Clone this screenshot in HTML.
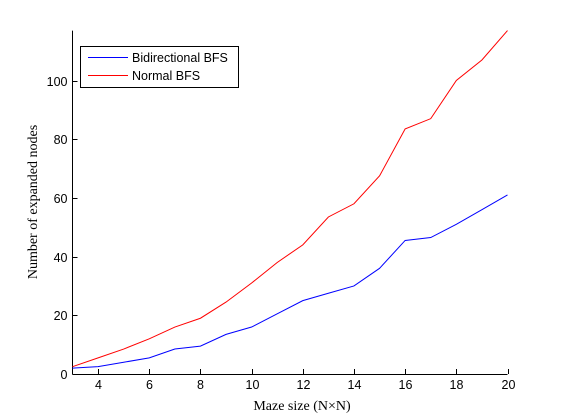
<!DOCTYPE html>
<html><head><meta charset="utf-8"><style>
body{margin:0;background:#fff;}
svg{display:block;}
</style></head><body>
<svg id="chart" width="561" height="420" xmlns="http://www.w3.org/2000/svg">
<g id="axes"></g>
<g id="series"></g>
<g>
<rect x="80.5" y="46.5" width="158" height="41" fill="#fff" stroke="#000" stroke-width="1"/>
<line x1="88" y1="57.5" x2="128" y2="57.5" stroke="#0000ff"/>
<text x="132" y="62" font-family="Liberation Sans, sans-serif" font-size="12.5">Bidirectional BFS</text>
<line x1="88" y1="75.5" x2="128" y2="75.5" stroke="#ff0000"/>
<text x="132" y="80" font-family="Liberation Sans, sans-serif" font-size="12.5">Normal BFS</text>
</g>
<text x="302" y="410" text-anchor="middle" font-family="Liberation Serif, serif" font-size="14">Maze size (N×N)</text>
<text transform="translate(37,202) rotate(-90)" text-anchor="middle" font-family="Liberation Serif, serif" font-size="14">Number of expanded nodes</text>
</svg>
<script>
const xs=[3,4,5,6,7,8,9,10,11,12,13,14,15,16,17,18,19,20];
const bidirectional=[2,2.5,4,5.5,8.5,9.5,13.5,16,20.5,25,27.5,30,36,45.5,46.5,51,56,61];
const normal=[2.5,5.5,8.5,12,16,19,24.5,31,38,44,53.5,58,67.5,83.5,87,100,107,117];
const xTicks=[4,6,8,10,12,14,16,18,20];
const yTicks=[0,20,40,60,80,100];
const NS="http://www.w3.org/2000/svg";
const X0=72.5,X1=507.5,Y0=374,YMAX=117,PPU=2.935;
function sx(v){return X0+(v-3)/(20-3)*(X1-X0);}
function sy(v){return Y0-v*PPU;}
const axes=document.getElementById('axes');
function mk(tag,attrs,parent){const e=document.createElementNS(NS,tag);for(const k in attrs)e.setAttribute(k,attrs[k]);parent.appendChild(e);return e;}
let l=mk('line',{x1:X0,y1:sy(YMAX),x2:X0,y2:Y0+0.5,stroke:'#000'},axes);


l=mk('line',{x1:X0,y1:Y0+0.5,x2:X1,y2:Y0+0.5,stroke:'#000'},axes);


xTicks.forEach(t=>{
 const x=Math.round(sx(t))+0.5;
 const tk=mk('line',{x1:x,y1:Y0,x2:x,y2:Y0-5,stroke:'#000'},axes);
 
 
 const tx=mk('text',{x:x,y:Y0+15,'text-anchor':'middle','font-family':'Liberation Sans, sans-serif','font-size':'12.5'},axes);
 tx.textContent=t;
 
 
});
yTicks.forEach(t=>{
 const y=Math.round(sy(t))+0.5;
 const tk=mk('line',{x1:X0,y1:y,x2:X0+5,y2:y,stroke:'#000'},axes);
 
 
 const tx=mk('text',{x:X0-5,y:y+4.5,'text-anchor':'end','font-family':'Liberation Sans, sans-serif','font-size':'12.5'},axes);
 tx.textContent=t;
 
 
});
const series=document.getElementById('series');
function line(vals,color,name){
 const p=mk('polyline',{points:vals.map((v,i)=>sx(xs[i])+','+sy(v)).join(' '),fill:'none',stroke:color,'stroke-width':'1'},series);
 
 
}
line(bidirectional,'#0000ff','bidirectional-bfs-line');
line(normal,'#ff0000','normal-bfs-line');
</script>
</body></html>
